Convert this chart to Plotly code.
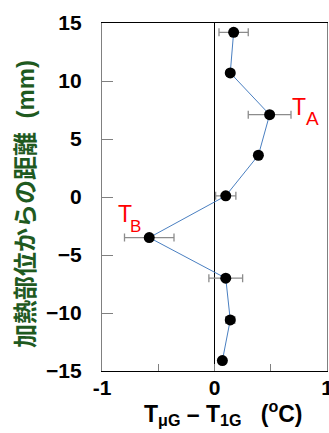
import plotly.graph_objects as go

# Distance from the heated site (mm) and temperature difference (°C)
distance_mm = [14.2, 10.7, 7.1, 3.6, 0.1, -3.5, -7.0, -10.6, -14.1]
delta_t = [0.17, 0.14, 0.49, 0.39, 0.10, -0.58, 0.10, 0.14, 0.07]
delta_t_err = [0.13, 0.03, 0.19, 0.02, 0.09, 0.22, 0.15, 0.04, 0.0]

x_tick_vals = [-1, -0.5, 0, 0.5, 1]
x_tick_text = ["-1", "", "0", "", "1"]
y_tick_vals = [-15, -10, -5, 0, 5, 10, 15]

LATIN = "Liberation Sans, Arial, sans-serif"
MIXED = "Liberation Sans, Noto Sans CJK JP, sans-serif"

fig = go.Figure()
fig.add_trace(go.Scatter(
    x=delta_t, y=distance_mm,
    mode="lines+markers",
    line=dict(color="#4a7fc1", width=1),
    marker=dict(color="black", size=11),
    error_x=dict(type="data", array=delta_t_err, visible=True,
                 color="#8c8c8c", thickness=1.3, width=4),
    showlegend=False,
))

tick_font = dict(family=LATIN, size=21, color="black", weight="bold")

fig.update_layout(
    width=329, height=433,
    margin=dict(l=102, r=2, t=23, b=62),
    plot_bgcolor="white", paper_bgcolor="white",
    font=dict(family=LATIN, size=19, color="black"),
    xaxis=dict(
        range=[-1, 1], tickvals=x_tick_vals, ticktext=x_tick_text,
        ticks="inside", ticklen=7, tickcolor="#808080", tickwidth=1.3,
        showline=True, linecolor="black", linewidth=1.3, mirror=True,
        showgrid=False, zeroline=True, zerolinecolor="black", zerolinewidth=1,
        tickfont=tick_font, ticklabelstandoff=-2, ticklabeloverflow="allow",
        automargin=False,
    ),
    yaxis=dict(
        range=[-15, 15], tickvals=y_tick_vals,
        ticks="inside", ticklen=11, tickcolor="#808080", tickwidth=1.3,
        showline=True, linecolor="#808080", linewidth=1.3, mirror=True,
        showgrid=False, zeroline=False,
        tickfont=tick_font, ticklabelstandoff=15, ticklabeloverflow="allow",
        automargin=False,
    ),
)

# Peak labels: a large "T" with a subscript letter beside it
peak_labels = [
    ("T", 0.751, 7.75, 23), ("A", 0.871, 6.8, 19),
    ("T", -0.792, -1.45, 23), ("B", -0.70, -2.5, 17),
]
for txt, lx, ly, size in peak_labels:
    fig.add_annotation(
        text=txt, x=lx, y=ly, xref="x", yref="y",
        xanchor="center", yanchor="middle", showarrow=False,
        font=dict(family=LATIN, size=size, color="red"),
    )

# Axis titles
fig.add_annotation(
    text="T<sub>μG</sub> – T<sub>1G</sub>   (<sup>o</sup>C)",
    x=0.542, y=-0.122, xref="paper", yref="paper",
    showarrow=False, xanchor="center", yanchor="middle",
    font=dict(family=LATIN, size=23, color="black", weight="bold"),
)
fig.add_annotation(
    text="加熱部位からの距離  (mm)",
    x=-0.338, y=0.48, xref="paper", yref="paper",
    showarrow=False, textangle=-90, xanchor="center", yanchor="middle",
    font=dict(family=MIXED, size=24, color="#1f5a1f", weight="bold"),
)

fig.write_html("out.html")
